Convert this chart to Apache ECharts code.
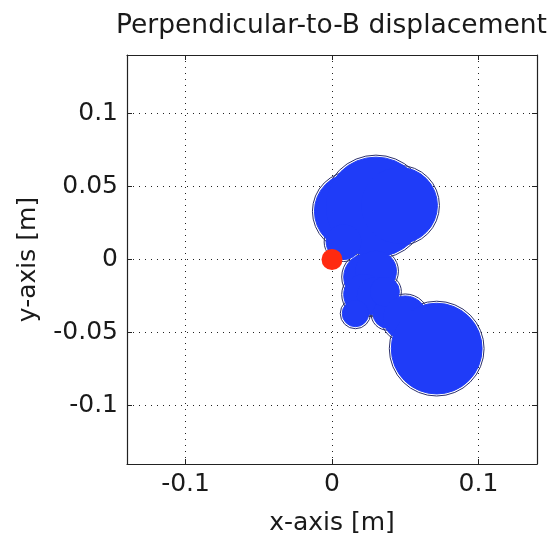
<!DOCTYPE html>
<html><head><meta charset="utf-8">
<script src="https://cdn.jsdelivr.net/npm/echarts@6/dist/echarts.min.js"></script>
<style>html,body{margin:0;padding:0;background:#fff}#c{width:551px;height:543px}</style>
</head><body><div id="c"></div>
<script>
// Gyration loops traced by the particle: guiding-centre x, y and loop radius [m]
const loopX = [0.014, 0.030, 0.046, 0.008, 0.024, 0.030, 0.022, 0.030, 0.016, 0.038, 0.036, 0.050, 0.0715];
const loopY = [0.033, 0.036, 0.037, 0.012, -0.012, -0.008, -0.024, -0.025, -0.037, -0.037, -0.022, -0.040, -0.061];
const loopR = [0.026, 0.034, 0.026, 0.012, 0.016, 0.014, 0.014, 0.013, 0.009, 0.010, 0.010, 0.015, 0.031];
const startX = [0];
const startY = [0];
const xTicks = [-0.1, 0, 0.1];
const yTicks = [-0.1, -0.05, 0, 0.05, 0.1];
const axisMin = -0.14, axisMax = 0.14;

const loops = loopX.map((x, i) => [x, loopY[i], loopR[i]]);
const font = 'DejaVu Sans, sans-serif';
const txt = '#1a1a1a';
const chart = echarts.init(document.getElementById('c'), null, {renderer: 'canvas'});
const axisLine = {show: true, onZero: false, lineStyle: {color: '#222', width: 1.2}};
const tick = (vals) => ({show: true, inside: true, length: 5, customValues: vals, lineStyle: {color: '#222'}});
const split = {show: true, lineStyle: {color: '#222', type: [1, 5], width: 1}};
function loopItem(fill, stroke, lw, pad) {
  return function (params, api) {
    const c = api.coord([api.value(0), api.value(1)]);
    const r = api.size([api.value(2), 0])[0] + pad;
    return {type: 'circle', shape: {cx: c[0], cy: c[1], r: r},
      style: {fill: fill, stroke: stroke, lineWidth: lw}};
  };
}
chart.setOption({
  animation: false,
  title: {text: 'Perpendicular-to-B displacement', left: 111, top: 8,
    textStyle: {fontFamily: font, fontSize: 26.5, fontWeight: 'normal', color: txt}},
  grid: {left: 127, right: 14, top: 55, bottom: 79},
  xAxis: [
    {type: 'value', min: axisMin, max: axisMax, position: 'bottom',
     name: 'x-axis [m]', nameLocation: 'middle', nameGap: 47,
     nameTextStyle: {fontFamily: font, fontSize: 25, color: txt},
     axisLine, axisTick: tick(xTicks), splitLine: split,
     axisLabel: {customValues: xTicks, margin: 8, fontFamily: font, fontSize: 25, color: txt}},
    {type: 'value', min: axisMin, max: axisMax, position: 'top',
     axisLine, axisTick: tick(xTicks), splitLine: {show: false}, axisLabel: {show: false}}
  ],
  yAxis: [
    {type: 'value', min: axisMin, max: axisMax, position: 'left',
     name: 'y-axis [m]', nameLocation: 'middle', nameGap: 86, nameRotate: 90,
     nameTextStyle: {fontFamily: font, fontSize: 25, color: txt},
     axisLine, axisTick: tick(yTicks), splitLine: split,
     axisLabel: {customValues: yTicks, margin: 9, fontFamily: font, fontSize: 25, color: txt}},
    {type: 'value', min: axisMin, max: axisMax, position: 'right',
     axisLine, axisTick: tick(yTicks), splitLine: {show: false}, axisLabel: {show: false}}
  ],
  series: [
    {type: 'custom', xAxisIndex: 0, yAxisIndex: 0, data: loops, clip: true, z: 2,
     renderItem: loopItem('none', '#2b2f6a', 1, 2)},
    {type: 'custom', xAxisIndex: 0, yAxisIndex: 0, data: loops, clip: true, z: 3,
     renderItem: loopItem('#1f3cf8', '#1f3cf8', 1, 0)},
    {type: 'scatter', xAxisIndex: 0, yAxisIndex: 0, data: startX.map((x, i) => [x, startY[i]]),
     symbol: 'circle', symbolSize: 21, itemStyle: {color: '#ff2a10', opacity: 1}, z: 5}
  ]
});
</script></body></html>
